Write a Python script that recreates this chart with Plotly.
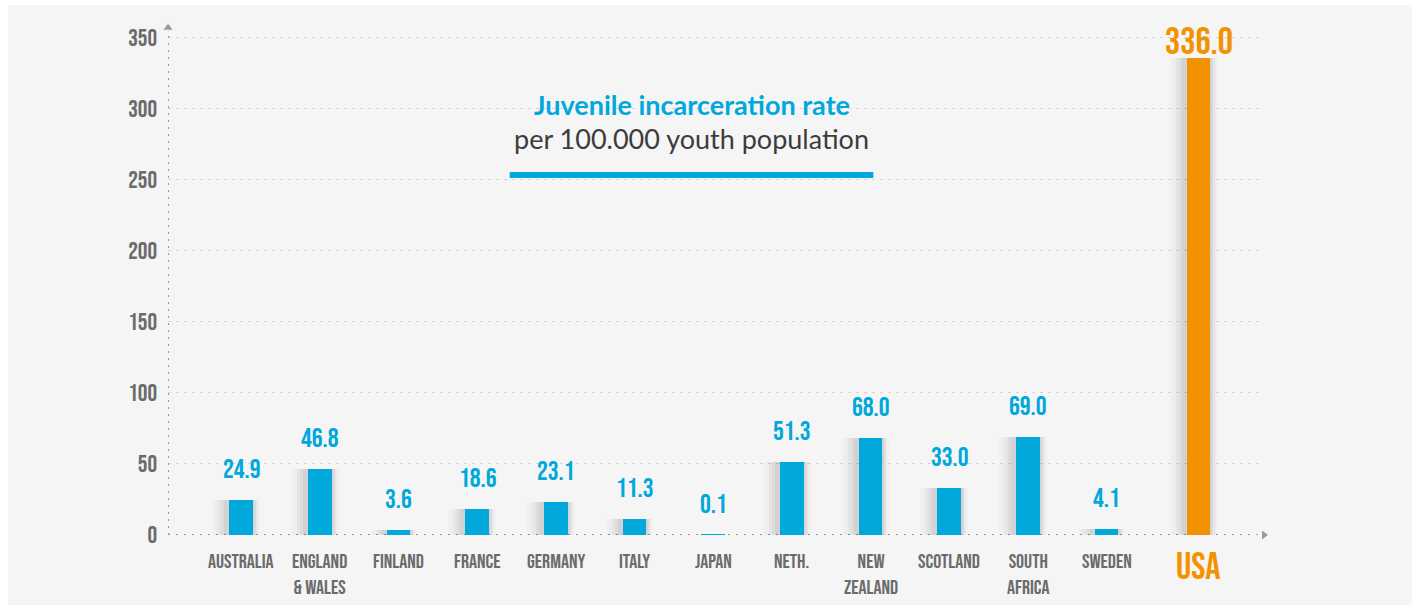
import plotly.graph_objects as go

# ---- data ----
countries = ["AUSTRALIA", "ENGLAND<br>& WALES", "FINLAND", "FRANCE", "GERMANY", "ITALY",
             "JAPAN", "NETH.", "NEW<br>ZEALAND", "SCOTLAND", "SOUTH<br>AFRICA", "SWEDEN", "USA"]
rates = [24.9, 46.8, 3.6, 18.6, 23.1, 11.3, 0.1, 51.3, 68.0, 33.0, 69.0, 4.1, 336.0]
y_ticks = [0, 50, 100, 150, 200, 250, 300, 350]
highlight = "USA"

title_main = "Juvenile incarceration rate"
title_sub = "per 100.000 youth population"

# ---- style / layout ----
BLUE = "#00a8dc"
ORANGE = "#f39200"
GRAY_TXT = "#6b6b6b"
COND = "Bebas Neue, Oswald, Roboto Condensed, Liberation Sans Narrow, DejaVu Sans Condensed, sans-serif"
HIGHLIGHT_GAP = 0.17          # extra spacing before the highlighted bar
XMIN, XMAX = -0.929, 13.0
YMAX = 359
PX_PER_UNIT = 78.67           # horizontal pixels per category step
BAR_W = 0.30

xs = [i + (HIGHLIGHT_GAP if c == highlight else 0) for i, c in enumerate(countries)]
colors = [ORANGE if c == highlight else BLUE for c in countries]

fig = go.Figure()

# soft shadows behind bars (layered, fading outward; stronger on the left)
for left_px, right_px, a in [(17, 7, 0.014), (14, 5, 0.02), (11, 4, 0.028),
                             (8, 3, 0.036), (5, 1.5, 0.045)]:
    lo = -BAR_W / 2 - left_px / PX_PER_UNIT
    w = BAR_W + (left_px + right_px) / PX_PER_UNIT
    fig.add_trace(go.Bar(x=xs, y=rates, width=w, offset=lo,
                         marker=dict(color=f"rgba(0,0,0,{a})", line=dict(width=0)),
                         hoverinfo="skip", showlegend=False))

fig.add_trace(go.Bar(x=xs, y=rates, width=BAR_W, offset=-BAR_W / 2,
                     marker=dict(color=colors, line=dict(width=0)),
                     showlegend=False))

# axis arrows
fig.add_trace(go.Scatter(x=[XMIN, XMAX], y=[YMAX - 2, 0], mode="markers",
                         marker=dict(symbol=["triangle-up", "triangle-right"], size=8, color="#9a9a9a"),
                         cliponaxis=False, hoverinfo="skip", showlegend=False))

annotations = []
for x, v, c in zip(xs, rates, countries):
    hl = c == highlight
    annotations.append(dict(
        x=x, y=v, xref="x", yref="y", text=f"{v:.1f}", showarrow=False,
        xanchor="center", yanchor="bottom", yshift=-9 if hl else 12,
        font=dict(family=COND, size=38 if hl else 27, color=ORANGE if hl else BLUE)))
    annotations.append(dict(
        x=x, y=0, xref="x", yref="y", text=c, showarrow=False,
        xanchor="center", yanchor="top", yshift=-8 if hl else -13,
        font=dict(family=COND, size=38 if hl else 20, color=ORANGE if hl else GRAY_TXT)))

annotations.append(dict(x=0.4777, y=0.845, xref="paper", yref="paper", text=title_main,
                        xanchor="center", yanchor="middle", showarrow=False,
                        font=dict(family="Lato", size=27, color=BLUE, weight="bold")))
annotations.append(dict(x=0.4777, y=0.7765, xref="paper", yref="paper", text=title_sub,
                        xanchor="center", yanchor="middle", showarrow=False,
                        font=dict(family="Lato", size=27, color="#3c3c3c")))

shapes = [
    dict(type="rect", xref="paper", yref="paper", x0=-0.1459, x1=1.1349, y0=-0.1373, y1=1.039,
         fillcolor="#f5f5f5", line=dict(width=0), layer="below"),
    dict(type="line", xref="paper", yref="paper", x0=0.3118, x1=0.6436, y0=0.706, y1=0.706,
         line=dict(color=BLUE, width=6)),
    dict(type="line", xref="x", yref="y", x0=XMIN, x1=XMIN, y0=0, y1=YMAX - 4,
         line=dict(color="#9a9a9a", width=2, dash="2px,5px"), layer="above"),
    dict(type="line", xref="x", yref="y", x0=XMIN, x1=XMAX - 0.08, y0=0, y1=0,
         line=dict(color="#9a9a9a", width=2, dash="2px,6px"), layer="below"),
]

fig.update_layout(
    width=1418, height=609,
    margin=dict(l=168, r=1418 - 168 - round((XMAX - XMIN) * PX_PER_UNIT), t=25, b=74),
    paper_bgcolor="white", plot_bgcolor="rgba(0,0,0,0)",
    barmode="overlay", bargap=0,
    annotations=annotations, shapes=shapes,
    xaxis=dict(range=[XMIN, XMAX], showgrid=False, zeroline=False, showticklabels=False,
               showline=False, fixedrange=True),
    yaxis=dict(range=[0, YMAX], tickvals=y_ticks, ticktext=[str(t) for t in y_ticks],
               showgrid=True, gridcolor="#d6d6d6", griddash="3px,5px", gridwidth=1,
               zeroline=False, showline=False, ticks="", ticklabelstandoff=10,
               tickfont=dict(family=COND, size=24, color=GRAY_TXT), fixedrange=True),
)

fig.write_html("out.html", config={"displayModeBar": False},
               post_script="document.body.style.margin='0';")
